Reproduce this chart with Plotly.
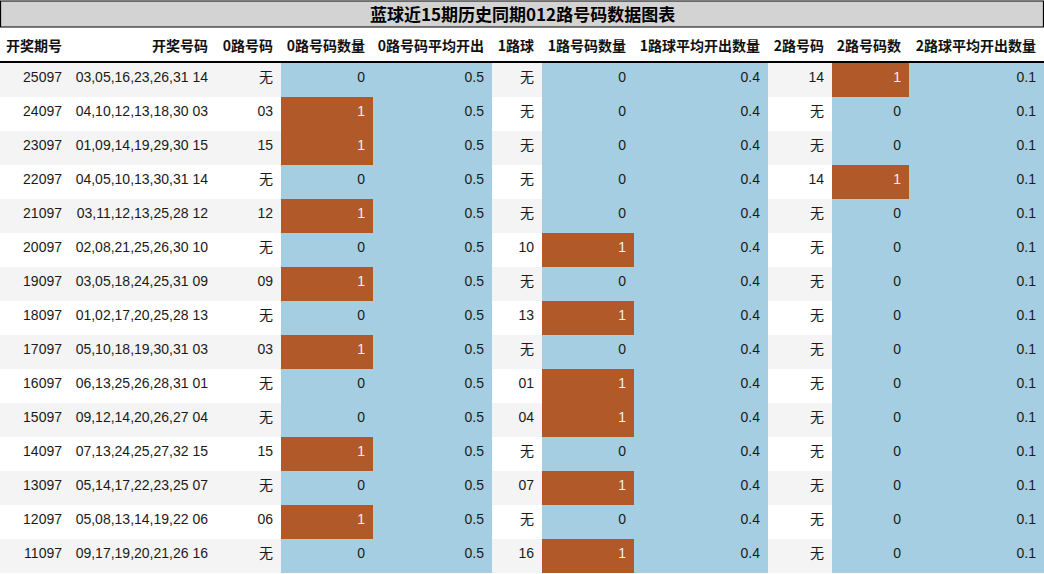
import plotly.graph_objects as go

# 数据
title = "蓝球近15期历史同期012路号码数据图表"
headers = ["开奖期号", "开奖号码", "0路号码", "0路号码数量", "0路号码平均开出",
           "1路球", "1路号码数量", "1路球平均开出数量", "2路号码", "2路号码数", "2路球平均开出数量"]

periods = ["25097", "24097", "23097", "22097", "21097", "20097", "19097", "18097",
           "17097", "16097", "15097", "14097", "13097", "12097", "11097"]
draws = ["03,05,16,23,26,31 14", "04,10,12,13,18,30 03", "01,09,14,19,29,30 15",
         "04,05,10,13,30,31 14", "03,11,12,13,25,28 12", "02,08,21,25,26,30 10",
         "03,05,18,24,25,31 09", "01,02,17,20,25,28 13", "05,10,18,19,30,31 03",
         "06,13,25,26,28,31 01", "09,12,14,20,26,27 04", "07,13,24,25,27,32 15",
         "05,14,17,22,23,25 07", "05,08,13,14,19,22 06", "09,17,19,20,21,26 16"]

zero_nums = ["无", "03", "15", "无", "12", "无", "09", "无", "03", "无", "无", "15", "无", "06", "无"]
zero_cnt = [0, 1, 1, 0, 1, 0, 1, 0, 1, 0, 0, 1, 0, 1, 0]
zero_avg = [0.5] * 15

one_nums = ["无", "无", "无", "无", "无", "10", "无", "13", "无", "01", "04", "无", "07", "无", "16"]
one_cnt = [0, 0, 0, 0, 0, 1, 0, 1, 0, 1, 1, 0, 1, 0, 1]
one_avg = [0.4] * 15

two_nums = ["14", "无", "无", "14", "无", "无", "无", "无", "无", "无", "无", "无", "无", "无", "无"]
two_cnt = [1, 0, 0, 1, 0, 0, 0, 0, 0, 0, 0, 0, 0, 0, 0]
two_avg = [0.1] * 15

# 颜色
BLUE = "#a6cee3"
ORANGE = "#b15928"
GRAY_ROW = "#f4f4f4"
WHITE = "#ffffff"
TEXT = "#1a1a1a"

n = len(periods)
row_bg = [GRAY_ROW if i % 2 == 0 else WHITE for i in range(n)]


def cnt_fill(counts):
    return [ORANGE if c == 1 else BLUE for c in counts]


def cnt_font(counts):
    return ["#f2f2f2" if c == 1 else TEXT for c in counts]


# 空格换成不换行空格, 防止表格自动折行
columns = [
    periods, [d.replace(" ", "\u00a0") for d in draws],
    zero_nums, [str(v) for v in zero_cnt], [f"{v:.1f}" for v in zero_avg],
    one_nums, [str(v) for v in one_cnt], [f"{v:.1f}" for v in one_avg],
    two_nums, [str(v) for v in two_cnt], [f"{v:.1f}" for v in two_avg],
]

fills = [
    row_bg, row_bg,
    row_bg, cnt_fill(zero_cnt), [BLUE] * n,
    row_bg, cnt_fill(one_cnt), [BLUE] * n,
    row_bg, cnt_fill(two_cnt), [BLUE] * n,
]

fonts = [
    [TEXT] * n, [TEXT] * n,
    [TEXT] * n, cnt_font(zero_cnt), [TEXT] * n,
    [TEXT] * n, cnt_font(one_cnt), [TEXT] * n,
    [TEXT] * n, cnt_font(two_cnt), [TEXT] * n,
]

col_widths = [70, 146, 65, 92, 119, 50, 92, 134, 64, 77, 135]

fig = go.Figure(go.Table(
    columnwidth=col_widths,
    header=dict(
        values=[f"<b>{h}</b>" for h in headers],
        align="right",
        height=35,
        fill_color=WHITE,
        line=dict(width=0, color=WHITE),
        font=dict(family="Noto Sans CJK SC, Liberation Sans, sans-serif", size=14, color="#111111"),
    ),
    cells=dict(
        values=columns,
        align="right",
        height=34,
        fill_color=fills,
        line=dict(width=0, color=WHITE),
        font=dict(family="Liberation Sans, Noto Sans CJK SC, sans-serif", size=14, color=fonts),
    ),
    domain=dict(x=[0, 1], y=[0, 1]),
))

W, H, TOP = 1044, 574, 27
plot_h = H - TOP

# 标题栏
fig.add_shape(type="rect", xref="paper", yref="paper",
              x0=0.0005, x1=0.9995, y0=1, y1=1 + (TOP - 1) / plot_h,
              fillcolor="#d3d3d3", line=dict(color="black", width=1.2), layer="above")
fig.add_annotation(text=f"<b>{title}</b>", xref="paper", yref="paper",
                   x=0.5, y=1 + (TOP / 2) / plot_h, showarrow=False,
                   xanchor="center", yanchor="middle",
                   font=dict(family="Noto Sans CJK SC, DejaVu Sans, sans-serif", size=17, color="black"))
# 表头下横线
fig.add_shape(type="line", xref="paper", yref="paper",
              x0=0, x1=1, y0=1 - 35 / plot_h, y1=1 - 35 / plot_h,
              line=dict(color="black", width=2), layer="above")

fig.update_layout(
    width=W, height=H,
    margin=dict(l=0, r=0, t=TOP, b=0),
    paper_bgcolor="white",
)

fig.write_html("out.html", config={"displayModeBar": False},
               post_script="document.body.style.margin='0';")
